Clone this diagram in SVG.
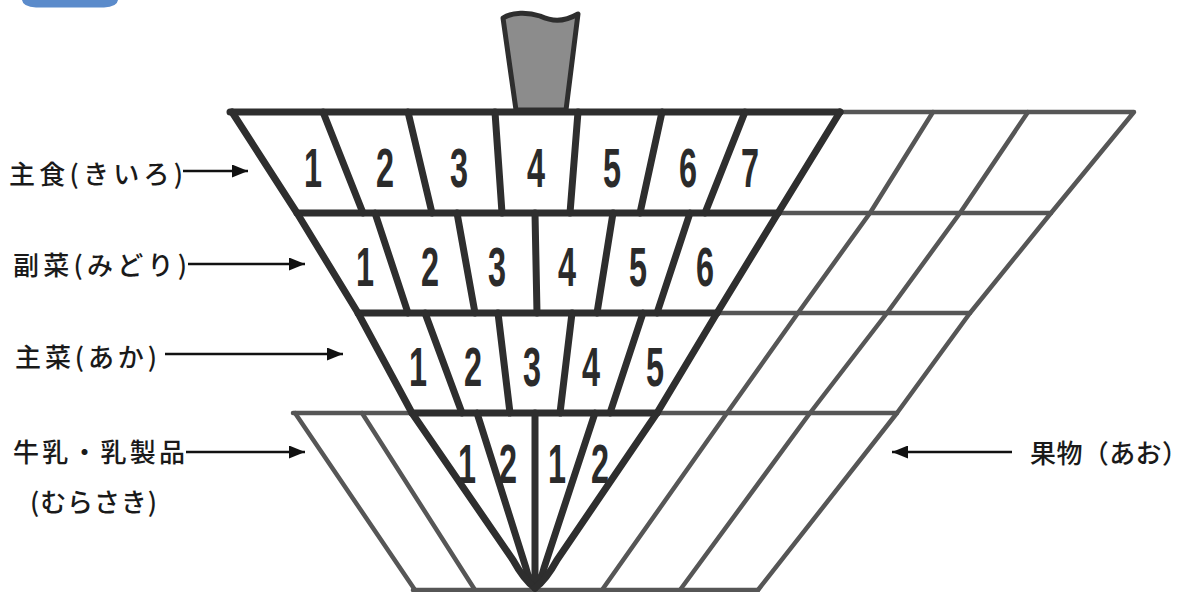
<svg xmlns="http://www.w3.org/2000/svg" width="1200" height="592" viewBox="0 0 1200 592">
<defs>
<style>
.dk{fill:none;stroke:#2e2e2e;stroke-width:7;stroke-linejoin:round;stroke-linecap:round}
.gr{fill:none;stroke:#565656;stroke-width:4.5;stroke-linejoin:round;stroke-linecap:round}
.num{font-family:"Liberation Sans Narrow","Liberation Sans",sans-serif;font-weight:bold;font-size:56px;fill:#2b2b2b}
.lbl{font-family:"Noto Sans CJK JP",sans-serif;font-size:26px;font-weight:500;fill:#1a1a1a}
.arr{fill:none;stroke:#111;stroke-width:2.5}
</style>
<marker id="ah" markerUnits="userSpaceOnUse" markerWidth="16" markerHeight="13" refX="16" refY="6.5" orient="auto">
<path d="M0,0 L16,6.5 L0,13 Z" fill="#111"/>
</marker>
</defs>
<rect width="1200" height="592" fill="#ffffff"/>
<path id="corner-tab" d="M22,0 L118,0 Q117,7 104,7.5 L36,7.5 Q23,7 22,0 Z" fill="#5b8bcb"/>

<g id="handle">
<path d="M503,18 C512,12 528,12 540,16 C551,21 562,23 578,14 L566,110 L516,110 Z" fill="#8c8c8c" stroke="#2e2e2e" stroke-width="5" stroke-linejoin="round"/>
</g>

<g id="fruit-grid">
<path class="gr" d="M840,112 L1134,112 L1051,213 L970,313 L897,413 L758,590"/>
<path class="gr" d="M778,213 L1051,213"/>
<path class="gr" d="M717,313 L970,313"/>
<path class="gr" d="M657,413 L897,413"/>
<path class="gr" d="M933,112 L870,213 L798,313 L727,413 L602,590"/>
<path class="gr" d="M1028,112 L960,213 L887,313 L810,413 L680,590"/>
</g>

<g id="milk-grid">
<path class="gr" d="M293,413 L412,413"/>
<path class="gr" d="M295,413 L415,590"/>
<path class="gr" d="M362,413 L475,590"/>
<path class="gr" d="M413,590 L758,590"/>
</g>

<g id="row-shushoku">
<path class="dk" d="M230,112 L840,112"/>
<path class="dk" d="M323,112 L363,213 M408,112 L432,213 M495,112 L502,213 M578,112 L570,213 M662,112 L640,213 M745,112 L705,213"/>
<text class="num" x="304" y="187" textLength="18" lengthAdjust="spacingAndGlyphs">1</text>
<text class="num" x="376" y="187" textLength="18" lengthAdjust="spacingAndGlyphs">2</text>
<text class="num" x="450" y="187" textLength="18" lengthAdjust="spacingAndGlyphs">3</text>
<text class="num" x="527" y="187" textLength="18" lengthAdjust="spacingAndGlyphs">4</text>
<text class="num" x="603" y="187" textLength="18" lengthAdjust="spacingAndGlyphs">5</text>
<text class="num" x="679" y="187" textLength="18" lengthAdjust="spacingAndGlyphs">6</text>
<text class="num" x="741" y="187" textLength="18" lengthAdjust="spacingAndGlyphs">7</text>
</g>

<g id="row-fukusai">
<path class="dk" d="M297,213 L778,213"/>
<path class="dk" d="M375,213 L408,313 M457,213 L475,313 M535,213 L537,313 M613,213 L597,313 M690,213 L657,313"/>
<text class="num" x="356" y="286" textLength="18" lengthAdjust="spacingAndGlyphs">1</text>
<text class="num" x="421" y="286" textLength="18" lengthAdjust="spacingAndGlyphs">2</text>
<text class="num" x="488" y="286" textLength="18" lengthAdjust="spacingAndGlyphs">3</text>
<text class="num" x="558" y="286" textLength="18" lengthAdjust="spacingAndGlyphs">4</text>
<text class="num" x="629" y="286" textLength="18" lengthAdjust="spacingAndGlyphs">5</text>
<text class="num" x="696" y="286" textLength="18" lengthAdjust="spacingAndGlyphs">6</text>
</g>

<g id="row-shusai">
<path class="dk" d="M358,313 L717,313"/>
<path class="dk" d="M425,313 L462,413 M498,313 L510,413 M572,313 L560,413 M643,313 L610,413"/>
<text class="num" x="409" y="386" textLength="18" lengthAdjust="spacingAndGlyphs">1</text>
<text class="num" x="464" y="386" textLength="18" lengthAdjust="spacingAndGlyphs">2</text>
<text class="num" x="523" y="386" textLength="18" lengthAdjust="spacingAndGlyphs">3</text>
<text class="num" x="582" y="386" textLength="18" lengthAdjust="spacingAndGlyphs">4</text>
<text class="num" x="646" y="386" textLength="18" lengthAdjust="spacingAndGlyphs">5</text>
</g>

<g id="row-milk">
<path class="dk" d="M412,413 L657,413"/>
<path class="dk" d="M477,413 L526,568 Q530,584 535,588 M595,413 L544,568 Q540,584 535,588 M535,413 L535,588"/>
<text class="num" x="458" y="483" textLength="18" lengthAdjust="spacingAndGlyphs">1</text>
<text class="num" x="499" y="483" textLength="18" lengthAdjust="spacingAndGlyphs">2</text>
<text class="num" x="548" y="483" textLength="18" lengthAdjust="spacingAndGlyphs">1</text>
<text class="num" x="591" y="483" textLength="18" lengthAdjust="spacingAndGlyphs">2</text>
</g>

<g id="top-outline">
<path class="dk" d="M232,112 L297,213 L358,313 L412,413 L513,560 Q524,580 535,588"/>
<path class="dk" d="M840,112 L778,213 L717,313 L657,413 L557,560 Q546,580 535,588"/>
</g>

<g id="label-shushoku"><text class="lbl" x="9" y="184" textLength="174" lengthAdjust="spacing">主食(きいろ)</text></g>
<g id="label-fukusai"><text class="lbl" x="13" y="275" textLength="174" lengthAdjust="spacing">副菜(みどり)</text></g>
<g id="label-shusai"><text class="lbl" x="15" y="367" textLength="142" lengthAdjust="spacing">主菜(あか)</text></g>
<g id="label-milk">
<text class="lbl" x="13" y="462" textLength="172" lengthAdjust="spacing">牛乳・乳製品</text>
<text class="lbl" x="30" y="512" textLength="127" lengthAdjust="spacing">(むらさき)</text>
</g>
<g id="label-fruit"><text class="lbl" x="1030" y="463" textLength="158" lengthAdjust="spacing">果物（あお）</text></g>

<g id="connectors">
<path class="arr" d="M183,171 L248,171" marker-end="url(#ah)"/>
<path class="arr" d="M188,264 L305,264" marker-end="url(#ah)"/>
<path class="arr" d="M165,354 L343,354" marker-end="url(#ah)"/>
<path class="arr" d="M186,452 L305,452" marker-end="url(#ah)"/>
<path class="arr" d="M1012,452 L892,452" marker-end="url(#ah)"/>
</g>
</svg>
